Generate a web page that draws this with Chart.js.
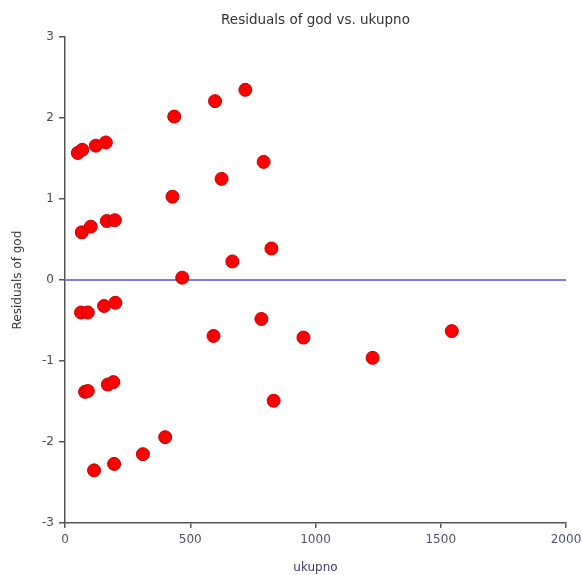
<!DOCTYPE html>
<html>
<head>
<meta charset="utf-8">
<script src="https://cdn.jsdelivr.net/npm/chart.js@4.4.0/dist/chart.umd.min.js"></script>
<style>
  html, body { margin: 0; padding: 0; background: #fff; }
</style>
</head>
<body>
<canvas id="residChart" width="582" height="575"></canvas>
<script>
// ukupno values and residuals of god
const ukupno = [51, 69, 123, 163, 436, 599, 720, 429, 625, 793,
                67, 103, 167, 199, 668, 824, 468,
                64, 91, 156, 201, 593, 784, 952, 1228, 1544,
                80, 91, 171, 193, 833,
                116, 196, 311, 400];
const residuals = [1.57, 1.61, 1.66, 1.70, 2.02, 2.21, 2.35, 1.03, 1.25, 1.46,
                   0.59, 0.66, 0.73, 0.74, 0.23, 0.39, 0.03,
                   -0.40, -0.40, -0.32, -0.28, -0.69, -0.48, -0.71, -0.96, -0.63,
                   -1.38, -1.37, -1.29, -1.26, -1.49,
                   -2.35, -2.27, -2.15, -1.94];

// zero reference line
const zeroLineX = [0, 2000];
const zeroLineY = [0, 0];

// tick labels
const xTicks = [0, 500, 1000, 1500, 2000];
const yTicks = [-3, -2, -1, 0, 1, 2, 3];

const axisColor = '#555555';
const fontFamily = "'DejaVu Sans', Verdana, sans-serif";
const labelFont = { family: fontFamily, size: 12 };

const points = ukupno.map((x, i) => ({ x: x, y: residuals[i] }));
const zeroLine = zeroLineX.map((x, i) => ({ x: x, y: zeroLineY[i] }));

new Chart(document.getElementById('residChart'), {
    type: 'scatter',
    data: {
        datasets: [
            {
                label: 'Residuals',
                data: points,
                backgroundColor: '#ff0000',
                borderColor: '#c00000',
                borderWidth: 1,
                pointRadius: 6.5
            },
            {
                type: 'line',
                label: 'zero',
                data: zeroLine,
                borderColor: 'rgb(125,125,225)',
                borderWidth: 2,
                pointRadius: 0,
                fill: false
            }
        ]
    },
    options: {
        responsive: false,
        animation: false,
        layout: { padding: 0 },
        plugins: {
            legend: { display: false },
            tooltip: { enabled: false },
            title: {
                display: true,
                text: 'Residuals of god vs. ukupno',
                fullSize: false,
                color: '#333333',
                font: { family: fontFamily, size: 13.5, weight: 'normal', lineHeight: 1.2 },
                padding: { top: 12, bottom: 9 }
            }
        },
        scales: {
            x: {
                type: 'linear',
                min: 0,
                max: 2000,
                afterBuildTicks: function(scale) {
                    scale.ticks = xTicks.map(v => ({ value: v }));
                },
                afterFit: function(scale) {
                    scale.height = 52;
                    scale.paddingRight = 16;
                },
                grid: { display: true, drawOnChartArea: false, tickLength: 5, color: axisColor, lineWidth: 1.5 },
                border: { display: true, color: axisColor, width: 1.5 },
                ticks: {
                    color: '#505068',
                    font: labelFont,
                    padding: 5,
                    maxRotation: 0,
                    autoSkip: false,
                    callback: function(value) { return String(value); }
                },
                title: {
                    display: true,
                    text: 'ukupno',
                    color: '#3a3a6a',
                    font: labelFont,
                    padding: { top: 0, bottom: 0 }
                }
            },
            y: {
                type: 'linear',
                min: -3,
                max: 3,
                afterBuildTicks: function(scale) {
                    scale.ticks = yTicks.map(v => ({ value: v }));
                },
                afterFit: function(scale) { scale.width = 65; },
                grid: { display: true, drawOnChartArea: false, tickLength: 6, color: axisColor, lineWidth: 1.5 },
                border: { display: true, color: axisColor, width: 1.5 },
                ticks: {
                    color: '#4a4a4a',
                    font: labelFont,
                    padding: 5,
                    callback: function(value) { return String(value); }
                },
                title: {
                    display: true,
                    text: 'Residuals of god',
                    color: '#333344',
                    font: labelFont,
                    padding: { top: 11, bottom: 0 }
                }
            }
        }
    }
});
</script>
</body>
</html>
